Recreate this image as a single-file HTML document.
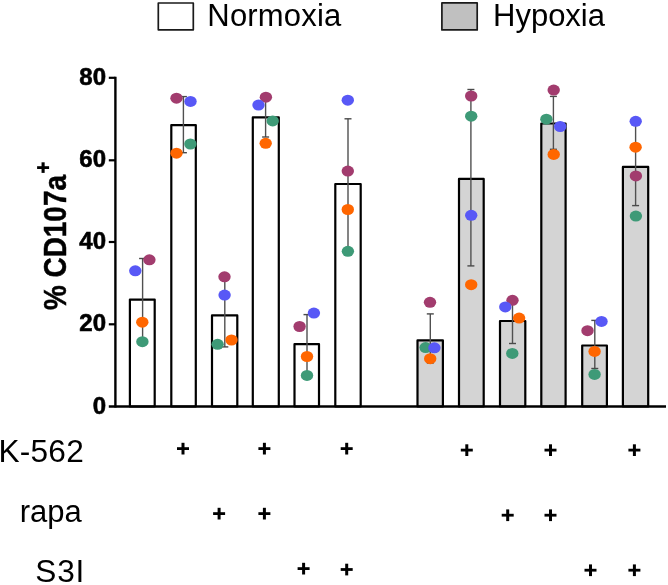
<!DOCTYPE html>
<html><head><meta charset="utf-8"><title>CD107a chart</title>
<style>
html,body{margin:0;padding:0;background:#fff;}
body{width:668px;height:585px;overflow:hidden;}
svg{display:block;will-change:transform;}
text{font-family:"Liberation Sans",sans-serif;fill:#000;}
.tk{font-weight:bold;font-size:24px;stroke:#000;stroke-width:0.6px;}
.lg{font-size:31px;}
.xl{font-size:31.6px;}
.yt{font-weight:bold;font-size:32px;stroke:#000;stroke-width:0.5px;}
</style></head><body>
<svg width="668" height="585" viewBox="0 0 668 585">

<rect x="158.3" y="3" width="35" height="26.8" fill="#fff" stroke="#1a1a1a" stroke-width="1.7" stroke-linejoin="round"/>
<text class="lg" x="207.3" y="26" letter-spacing="0.2">Normoxia</text>
<rect x="441.9" y="2.9" width="35.3" height="27" fill="#c0c0c0" stroke="#1a1a1a" stroke-width="1.7" stroke-linejoin="round"/>
<text class="lg" x="493" y="26.3">Hypoxia</text>
<rect x="129.9" y="299.6" width="24.8" height="106.9" fill="#fff" stroke="#000" stroke-width="2.2" stroke-linejoin="round"/>
<rect x="171.3" y="125.1" width="24.5" height="281.4" fill="#fff" stroke="#000" stroke-width="2.2" stroke-linejoin="round"/>
<rect x="212.0" y="315.4" width="25.3" height="91.1" fill="#fff" stroke="#000" stroke-width="2.2" stroke-linejoin="round"/>
<rect x="252.8" y="117.4" width="26.0" height="289.1" fill="#fff" stroke="#000" stroke-width="2.2" stroke-linejoin="round"/>
<rect x="294.5" y="344.2" width="24.5" height="62.3" fill="#fff" stroke="#000" stroke-width="2.2" stroke-linejoin="round"/>
<rect x="335.3" y="184.0" width="25.4" height="222.5" fill="#fff" stroke="#000" stroke-width="2.2" stroke-linejoin="round"/>
<rect x="417.5" y="340.4" width="25.4" height="66.1" fill="#d4d4d4" stroke="#000" stroke-width="2.2" stroke-linejoin="round"/>
<rect x="459.0" y="178.9" width="24.7" height="227.6" fill="#d4d4d4" stroke="#000" stroke-width="2.2" stroke-linejoin="round"/>
<rect x="500.0" y="321.0" width="25.3" height="85.5" fill="#d4d4d4" stroke="#000" stroke-width="2.2" stroke-linejoin="round"/>
<rect x="541.3" y="123.5" width="24.3" height="283.0" fill="#d4d4d4" stroke="#000" stroke-width="2.2" stroke-linejoin="round"/>
<rect x="582.2" y="345.5" width="24.7" height="61.0" fill="#d4d4d4" stroke="#000" stroke-width="2.2" stroke-linejoin="round"/>
<rect x="622.9" y="166.9" width="25.3" height="239.6" fill="#d4d4d4" stroke="#000" stroke-width="2.2" stroke-linejoin="round"/>
<line x1="115.4" y1="76.7" x2="115.4" y2="407.6" stroke="#000" stroke-width="2.4"/>
<line x1="108.8" y1="406.5" x2="666" y2="406.5" stroke="#000" stroke-width="2.4"/>
<line x1="108.8" y1="77.8" x2="115.4" y2="77.8" stroke="#000" stroke-width="2.2"/>
<line x1="108.8" y1="160.3" x2="115.4" y2="160.3" stroke="#000" stroke-width="2.2"/>
<line x1="108.8" y1="242.0" x2="115.4" y2="242.0" stroke="#000" stroke-width="2.2"/>
<line x1="108.8" y1="324.3" x2="115.4" y2="324.3" stroke="#000" stroke-width="2.2"/>
<text class="tk" x="106" y="84.7" text-anchor="end">80</text>
<text class="tk" x="106" y="167.2" text-anchor="end">60</text>
<text class="tk" x="106" y="248.9" text-anchor="end">40</text>
<text class="tk" x="106" y="331.2" text-anchor="end">20</text>
<text class="tk" x="106" y="414.1" text-anchor="end">0</text>
<line x1="142.6" y1="258.5" x2="142.6" y2="340.5" stroke="#505050" stroke-width="1.4"/>
<line x1="139.1" y1="258.5" x2="146.1" y2="258.5" stroke="#4a4a4a" stroke-width="1.4"/>
<line x1="139.1" y1="340.5" x2="146.1" y2="340.5" stroke="#4a4a4a" stroke-width="1.4"/>
<line x1="183.4" y1="96.6" x2="183.4" y2="152.7" stroke="#505050" stroke-width="1.4"/>
<line x1="179.9" y1="96.6" x2="186.9" y2="96.6" stroke="#4a4a4a" stroke-width="1.4"/>
<line x1="179.9" y1="152.7" x2="186.9" y2="152.7" stroke="#4a4a4a" stroke-width="1.4"/>
<line x1="224.8" y1="279.0" x2="224.8" y2="346.9" stroke="#505050" stroke-width="1.4"/>
<line x1="221.3" y1="279.0" x2="228.3" y2="279.0" stroke="#4a4a4a" stroke-width="1.4"/>
<line x1="221.3" y1="346.9" x2="228.3" y2="346.9" stroke="#4a4a4a" stroke-width="1.4"/>
<line x1="265.6" y1="97.5" x2="265.6" y2="137.0" stroke="#505050" stroke-width="1.4"/>
<line x1="262.1" y1="97.5" x2="269.1" y2="97.5" stroke="#4a4a4a" stroke-width="1.4"/>
<line x1="262.1" y1="137.0" x2="269.1" y2="137.0" stroke="#4a4a4a" stroke-width="1.4"/>
<line x1="307.0" y1="314.6" x2="307.0" y2="375.0" stroke="#505050" stroke-width="1.4"/>
<line x1="303.5" y1="314.6" x2="310.5" y2="314.6" stroke="#4a4a4a" stroke-width="1.4"/>
<line x1="303.5" y1="375.0" x2="310.5" y2="375.0" stroke="#4a4a4a" stroke-width="1.4"/>
<line x1="348.0" y1="118.8" x2="348.0" y2="250.4" stroke="#505050" stroke-width="1.4"/>
<line x1="344.5" y1="118.8" x2="351.5" y2="118.8" stroke="#4a4a4a" stroke-width="1.4"/>
<line x1="344.5" y1="250.4" x2="351.5" y2="250.4" stroke="#4a4a4a" stroke-width="1.4"/>
<line x1="430.3" y1="313.9" x2="430.3" y2="363.0" stroke="#505050" stroke-width="1.4"/>
<line x1="426.8" y1="313.9" x2="433.8" y2="313.9" stroke="#4a4a4a" stroke-width="1.4"/>
<line x1="426.8" y1="363.0" x2="433.8" y2="363.0" stroke="#4a4a4a" stroke-width="1.4"/>
<line x1="470.9" y1="89.5" x2="470.9" y2="265.9" stroke="#505050" stroke-width="1.4"/>
<line x1="467.4" y1="89.5" x2="474.4" y2="89.5" stroke="#4a4a4a" stroke-width="1.4"/>
<line x1="467.4" y1="265.9" x2="474.4" y2="265.9" stroke="#4a4a4a" stroke-width="1.4"/>
<line x1="512.5" y1="299.0" x2="512.5" y2="343.5" stroke="#505050" stroke-width="1.4"/>
<line x1="509.0" y1="299.0" x2="516.0" y2="299.0" stroke="#4a4a4a" stroke-width="1.4"/>
<line x1="509.0" y1="343.5" x2="516.0" y2="343.5" stroke="#4a4a4a" stroke-width="1.4"/>
<line x1="553.4" y1="96.4" x2="553.4" y2="149.3" stroke="#505050" stroke-width="1.4"/>
<line x1="549.9" y1="96.4" x2="556.9" y2="96.4" stroke="#4a4a4a" stroke-width="1.4"/>
<line x1="549.9" y1="149.3" x2="556.9" y2="149.3" stroke="#4a4a4a" stroke-width="1.4"/>
<line x1="594.8" y1="320.4" x2="594.8" y2="368.5" stroke="#505050" stroke-width="1.4"/>
<line x1="591.3" y1="320.4" x2="598.3" y2="320.4" stroke="#4a4a4a" stroke-width="1.4"/>
<line x1="591.3" y1="368.5" x2="598.3" y2="368.5" stroke="#4a4a4a" stroke-width="1.4"/>
<line x1="635.6" y1="122.0" x2="635.6" y2="205.6" stroke="#505050" stroke-width="1.4"/>
<line x1="632.1" y1="122.0" x2="639.1" y2="122.0" stroke="#4a4a4a" stroke-width="1.4"/>
<line x1="632.1" y1="205.6" x2="639.1" y2="205.6" stroke="#4a4a4a" stroke-width="1.4"/>
<ellipse cx="149.4" cy="259.8" rx="6.2" ry="5.5" fill="#a23c6e"/>
<ellipse cx="142.4" cy="341.7" rx="6.2" ry="5.5" fill="#3e9a77"/>
<ellipse cx="135.3" cy="270.8" rx="6.2" ry="5.5" fill="#5858f6"/>
<ellipse cx="142.3" cy="322.2" rx="6.2" ry="5.5" fill="#ff6600"/>
<ellipse cx="176.5" cy="98.2" rx="6.2" ry="5.5" fill="#a23c6e"/>
<ellipse cx="190.4" cy="144.0" rx="6.2" ry="5.5" fill="#3e9a77"/>
<ellipse cx="190.5" cy="101.4" rx="6.2" ry="5.5" fill="#5858f6"/>
<ellipse cx="176.5" cy="153.2" rx="6.2" ry="5.5" fill="#ff6600"/>
<ellipse cx="224.5" cy="276.8" rx="6.2" ry="5.5" fill="#a23c6e"/>
<ellipse cx="217.6" cy="344.3" rx="6.2" ry="5.5" fill="#3e9a77"/>
<ellipse cx="224.6" cy="295.1" rx="6.2" ry="5.5" fill="#5858f6"/>
<ellipse cx="231.5" cy="340.0" rx="6.2" ry="5.5" fill="#ff6600"/>
<ellipse cx="265.9" cy="97.2" rx="6.2" ry="5.5" fill="#a23c6e"/>
<ellipse cx="272.7" cy="120.9" rx="6.2" ry="5.5" fill="#3e9a77"/>
<ellipse cx="258.5" cy="105.1" rx="6.2" ry="5.5" fill="#5858f6"/>
<ellipse cx="265.7" cy="143.3" rx="6.2" ry="5.5" fill="#ff6600"/>
<ellipse cx="299.6" cy="326.5" rx="6.2" ry="5.5" fill="#a23c6e"/>
<ellipse cx="307.0" cy="375.4" rx="6.2" ry="5.5" fill="#3e9a77"/>
<ellipse cx="313.9" cy="313.1" rx="6.2" ry="5.5" fill="#5858f6"/>
<ellipse cx="307.0" cy="356.5" rx="6.2" ry="5.5" fill="#ff6600"/>
<ellipse cx="347.8" cy="171.1" rx="6.2" ry="5.5" fill="#a23c6e"/>
<ellipse cx="347.9" cy="251.3" rx="6.2" ry="5.5" fill="#3e9a77"/>
<ellipse cx="347.8" cy="100.2" rx="6.2" ry="5.5" fill="#5858f6"/>
<ellipse cx="347.8" cy="209.5" rx="6.2" ry="5.5" fill="#ff6600"/>
<ellipse cx="430.0" cy="302.3" rx="6.2" ry="5.5" fill="#a23c6e"/>
<ellipse cx="425.6" cy="347.6" rx="6.2" ry="5.5" fill="#3e9a77"/>
<ellipse cx="434.4" cy="347.8" rx="6.2" ry="5.5" fill="#5858f6"/>
<ellipse cx="430.2" cy="358.7" rx="6.2" ry="5.5" fill="#ff6600"/>
<ellipse cx="471.2" cy="96.0" rx="6.2" ry="5.5" fill="#a23c6e"/>
<ellipse cx="471.2" cy="116.2" rx="6.2" ry="5.5" fill="#3e9a77"/>
<ellipse cx="471.2" cy="215.3" rx="6.2" ry="5.5" fill="#5858f6"/>
<ellipse cx="471.2" cy="284.7" rx="6.2" ry="5.5" fill="#ff6600"/>
<ellipse cx="512.5" cy="300.3" rx="6.2" ry="5.5" fill="#a23c6e"/>
<ellipse cx="512.3" cy="353.4" rx="6.2" ry="5.5" fill="#3e9a77"/>
<ellipse cx="505.3" cy="306.9" rx="6.2" ry="5.5" fill="#5858f6"/>
<ellipse cx="519.1" cy="318.1" rx="6.2" ry="5.5" fill="#ff6600"/>
<ellipse cx="553.7" cy="90.1" rx="6.2" ry="5.5" fill="#a23c6e"/>
<ellipse cx="546.4" cy="119.2" rx="6.2" ry="5.5" fill="#3e9a77"/>
<ellipse cx="560.2" cy="126.5" rx="6.2" ry="5.5" fill="#5858f6"/>
<ellipse cx="553.7" cy="154.4" rx="6.2" ry="5.5" fill="#ff6600"/>
<ellipse cx="587.5" cy="330.7" rx="6.2" ry="5.5" fill="#a23c6e"/>
<ellipse cx="594.6" cy="374.4" rx="6.2" ry="5.5" fill="#3e9a77"/>
<ellipse cx="601.5" cy="321.4" rx="6.2" ry="5.5" fill="#5858f6"/>
<ellipse cx="594.6" cy="351.4" rx="6.2" ry="5.5" fill="#ff6600"/>
<ellipse cx="635.9" cy="175.9" rx="6.2" ry="5.5" fill="#a23c6e"/>
<ellipse cx="635.9" cy="216.1" rx="6.2" ry="5.5" fill="#3e9a77"/>
<ellipse cx="635.7" cy="121.3" rx="6.2" ry="5.5" fill="#5858f6"/>
<ellipse cx="635.6" cy="147.2" rx="6.2" ry="5.5" fill="#ff6600"/>
<g transform="translate(65.5,310) rotate(-90)"><g transform="scale(0.872,1)"><text class="yt" x="0" y="0">% CD107a</text></g></g>
<g transform="translate(43.1,167.6)"><line x1="-6" y1="0" x2="6" y2="0" stroke="#000" stroke-width="2.8"/><line x1="0" y1="-5.3" x2="0" y2="5.3" stroke="#000" stroke-width="3.1"/></g>
<text class="xl" x="83.9" y="461.9" text-anchor="end" letter-spacing="0.2">K-562</text>
<text class="xl" x="81.8" y="521.6" text-anchor="end" style="font-size:31px">rapa</text>
<text class="xl" x="85.3" y="581.8" text-anchor="end" letter-spacing="0.9">S3I</text>
<line x1="177.0" y1="448.6" x2="189.0" y2="448.6" stroke="#000" stroke-width="2.8"/>
<line x1="183.0" y1="442.8" x2="183.0" y2="454.5" stroke="#000" stroke-width="3"/>
<line x1="258.4" y1="448.6" x2="270.4" y2="448.6" stroke="#000" stroke-width="2.8"/>
<line x1="264.4" y1="442.8" x2="264.4" y2="454.5" stroke="#000" stroke-width="3"/>
<line x1="340.7" y1="448.6" x2="352.7" y2="448.6" stroke="#000" stroke-width="2.8"/>
<line x1="346.7" y1="442.8" x2="346.7" y2="454.5" stroke="#000" stroke-width="3"/>
<line x1="460.8" y1="450.1" x2="472.8" y2="450.1" stroke="#000" stroke-width="2.8"/>
<line x1="466.8" y1="444.3" x2="466.8" y2="456.0" stroke="#000" stroke-width="3"/>
<line x1="544.5" y1="450.1" x2="556.5" y2="450.1" stroke="#000" stroke-width="2.8"/>
<line x1="550.5" y1="444.3" x2="550.5" y2="456.0" stroke="#000" stroke-width="3"/>
<line x1="628.4" y1="450.1" x2="640.4" y2="450.1" stroke="#000" stroke-width="2.8"/>
<line x1="634.4" y1="444.3" x2="634.4" y2="456.0" stroke="#000" stroke-width="3"/>
<line x1="213.1" y1="513.6" x2="225.1" y2="513.6" stroke="#000" stroke-width="2.8"/>
<line x1="219.1" y1="507.8" x2="219.1" y2="519.5" stroke="#000" stroke-width="3"/>
<line x1="258.4" y1="513.6" x2="270.4" y2="513.6" stroke="#000" stroke-width="2.8"/>
<line x1="264.4" y1="507.8" x2="264.4" y2="519.5" stroke="#000" stroke-width="3"/>
<line x1="501.7" y1="515.2" x2="513.7" y2="515.2" stroke="#000" stroke-width="2.8"/>
<line x1="507.7" y1="509.40000000000003" x2="507.7" y2="521.1" stroke="#000" stroke-width="3"/>
<line x1="544.5" y1="515.2" x2="556.5" y2="515.2" stroke="#000" stroke-width="2.8"/>
<line x1="550.5" y1="509.40000000000003" x2="550.5" y2="521.1" stroke="#000" stroke-width="3"/>
<line x1="297.6" y1="568.6" x2="309.6" y2="568.6" stroke="#000" stroke-width="2.8"/>
<line x1="303.6" y1="562.8000000000001" x2="303.6" y2="574.5" stroke="#000" stroke-width="3"/>
<line x1="340.7" y1="569.5" x2="352.7" y2="569.5" stroke="#000" stroke-width="2.8"/>
<line x1="346.7" y1="563.7" x2="346.7" y2="575.4" stroke="#000" stroke-width="3"/>
<line x1="584.5" y1="570.2" x2="596.5" y2="570.2" stroke="#000" stroke-width="2.8"/>
<line x1="590.5" y1="564.4000000000001" x2="590.5" y2="576.1" stroke="#000" stroke-width="3"/>
<line x1="628.4" y1="570.2" x2="640.4" y2="570.2" stroke="#000" stroke-width="2.8"/>
<line x1="634.4" y1="564.4000000000001" x2="634.4" y2="576.1" stroke="#000" stroke-width="3"/>
</svg>
</body></html>
